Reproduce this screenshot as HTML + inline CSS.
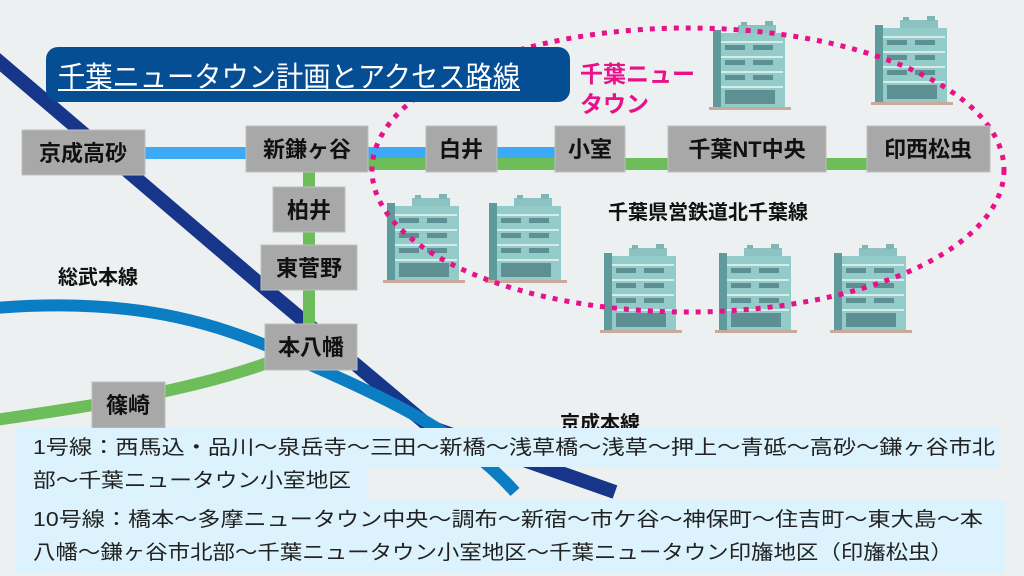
<!DOCTYPE html>
<html><head><meta charset="utf-8"><style>
html,body{margin:0;padding:0;background:#ecf0f1;}
svg{display:block;font-family:"Liberation Sans","Noto Sans CJK JP",sans-serif;}
</style></head><body>
<svg width="1024" height="576" viewBox="0 0 1024 576" xmlns="http://www.w3.org/2000/svg">
<defs>
<g id="bld">
  <rect x="25" y="0" width="38" height="9" fill="#8cc3c2"/>
  <rect x="28" y="-3" width="6" height="4" fill="#7fb5b5"/>
  <rect x="52" y="-4" width="8" height="5" fill="#7fb5b5"/>
  <rect x="2" y="8" width="70" height="74" fill="#93cbc9"/>
  <rect x="0" y="5" width="8" height="77" fill="#5f9b9d"/>
  <rect x="8" y="16" width="62" height="2" fill="#d6ecea"/>
  <rect x="8" y="31" width="62" height="2" fill="#d6ecea"/>
  <rect x="8" y="46" width="62" height="2" fill="#d6ecea"/>
  <rect x="8" y="61" width="62" height="2" fill="#d6ecea"/>
  <g fill="#5e8f92">
   <rect x="12" y="20" width="20" height="5"/><rect x="40" y="20" width="20" height="5"/>
   <rect x="12" y="35" width="20" height="5"/><rect x="40" y="35" width="20" height="5"/>
   <rect x="12" y="50" width="20" height="5"/><rect x="40" y="50" width="20" height="5"/>
   <rect x="12" y="65" width="50" height="14"/>
  </g>
  <rect x="-4" y="82" width="82" height="3" fill="#c8aa9c"/>
</g>
</defs>
<rect width="1024" height="576" fill="#ecf0f1"/>

<!-- lines -->
<path d="M-5,58 L267,290 L430,427 L615,492" fill="none" stroke="#17368a" stroke-width="14"/>
<path d="M-5,308 C120,298 200,318 265,345 C380,395 460,430 515,492" fill="none" stroke="#0b7dc2" stroke-width="12"/>
<path d="M-5,420 C100,405 230,385 310,345" fill="none" stroke="#6dbd5a" stroke-width="12"/>
<line x1="145" y1="153" x2="560" y2="153" stroke="#3ea9f6" stroke-width="12"/>
<line x1="368" y1="164" x2="870" y2="164" stroke="#6dbd5a" stroke-width="12"/>
<line x1="309" y1="170" x2="309" y2="330" stroke="#6dbd5a" stroke-width="12"/>

<!-- buildings -->
<use href="#bld" x="713" y="25"/>
<use href="#bld" x="875" y="20"/>
<use href="#bld" x="387" y="198"/>
<use href="#bld" x="489" y="198"/>
<use href="#bld" x="604" y="248"/>
<use href="#bld" x="719" y="248"/>
<use href="#bld" x="834" y="248"/>

<ellipse cx="688" cy="170" rx="316" ry="142" fill="none" stroke="#e8118a" stroke-width="5" stroke-dasharray="5 7"/>

<!-- title -->
<rect x="46" y="47" width="524" height="55" rx="12" fill="#064e94"/>
<text x="58" y="87" font-size="29" fill="#fff" textLength="462" lengthAdjust="spacingAndGlyphs">千葉ニュータウン計画とアクセス路線</text>
<line x1="58" y1="90" x2="520" y2="90" stroke="#fff" stroke-width="2"/>
<text x="580" y="82" font-size="23" fill="#e8118a" font-weight="bold">千葉ニュー</text>
<text x="580" y="112" font-size="23" fill="#e8118a" font-weight="bold">タウン</text>

<!-- stations -->
<g fill="#a8a8a8" stroke="#c0c0c0" stroke-width="1">
<rect x="22" y="130" width="123" height="45"/>
<rect x="246" y="126" width="122" height="46"/>
<rect x="426" y="126" width="71" height="46"/>
<rect x="555" y="126" width="70" height="46"/>
<rect x="668" y="126" width="158" height="46"/>
<rect x="867" y="126" width="123" height="46"/>
<rect x="273" y="187" width="72" height="45"/>
<rect x="261" y="245" width="96" height="45"/>
<rect x="265" y="324" width="92" height="46"/>
<rect x="92" y="382" width="73" height="46"/>
</g>
<g font-size="22" font-weight="bold" fill="#111" text-anchor="middle">
<text x="83" y="161">京成高砂</text>
<text x="307" y="157">新鎌ヶ谷</text>
<text x="461" y="157">白井</text>
<text x="590" y="157">小室</text>
<text x="747" y="157">千葉NT中央</text>
<text x="928" y="157">印西松虫</text>
<text x="309" y="218">柏井</text>
<text x="309" y="276">東菅野</text>
<text x="311" y="355">本八幡</text>
<text x="128" y="413">篠崎</text>
</g>
<g font-size="20" font-weight="bold" fill="#111">
<text x="58" y="284">総武本線</text>
<text x="608" y="219">千葉県営鉄道北千葉線</text>
<text x="560" y="430">京成本線</text>
</g>

<!-- info boxes -->
<g fill="#dcf3fd">
<rect x="15" y="428" width="985" height="39"/>
<rect x="15" y="466" width="353" height="33"/>
<rect x="15" y="500" width="990" height="73"/>
</g>
<g font-size="20" fill="#222">
<text x="33" y="454" textLength="962" lengthAdjust="spacingAndGlyphs">1号線：西馬込・品川～泉岳寺～三田～新橋～浅草橋～浅草～押上～青砥～高砂～鎌ヶ谷市北</text>
<text x="33" y="487" textLength="318" lengthAdjust="spacingAndGlyphs">部～千葉ニュータウン小室地区</text>
<text x="33" y="526" textLength="950" lengthAdjust="spacingAndGlyphs">10号線：橋本～多摩ニュータウン中央～調布～新宿～市ケ谷～神保町～住吉町～東大島～本</text>
<text x="33" y="559" textLength="920" lengthAdjust="spacingAndGlyphs">八幡～鎌ヶ谷市北部～千葉ニュータウン小室地区～千葉ニュータウン印旛地区（印旛松虫）</text>
</g>
</svg>
</body></html>
